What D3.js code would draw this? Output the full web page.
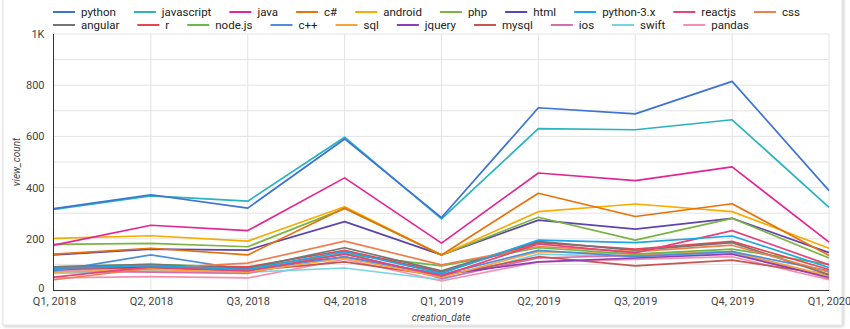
<!DOCTYPE html>
<html><head><meta charset="utf-8">
<script src="https://cdn.jsdelivr.net/npm/d3@7"></script>
<style>body{margin:0;background:#fff;font-family:Roboto,"Noto Sans",sans-serif}</style>
</head><body><svg id="c" width="850" height="329"></svg>
<script>
const categories = ["Q1, 2018","Q2, 2018","Q3, 2018","Q4, 2018","Q1, 2019","Q2, 2019","Q3, 2019","Q4, 2019","Q1, 2020"];
const seriesNames = ["python","javascript","java","c#","android","php","html","python-3.x","reactjs","css","angular","r","node.js","c++","sql","jquery","mysql","ios","swift","pandas"];
const python     = [318,372,320,590,283,712,688,815,388];
const javascript = [315,368,347,597,278,630,626,665,323];
const java       = [175,253,232,438,183,457,427,481,187];
const csharp     = [140,163,137,320,137,378,287,337,135];
const android    = [202,212,191,325,137,306,336,306,163];
const php        = [178,182,169,318,137,284,195,280,125];
const html       = [137,160,156,267,137,273,238,280,146];
const python3x   = [85,95,80,150,65,195,185,211,88];
const reactjs    = [50,90,75,140,55,180,145,232,98];
const css        = [40,85,105,191,98,170,150,175,70];
const angular    = [90,100,85,165,75,190,155,185,60];
const r          = [85,95,90,155,70,185,160,190,80];
const nodejs     = [90,100,88,140,94,165,140,160,100];
const cpp        = [75,137,78,130,60,155,130,150,75];
const sql        = [70,80,70,125,50,150,140,150,55];
const jquery     = [85,90,80,130,60,110,125,140,50];
const mysql      = [80,85,75,110,55,130,94,117,60];
const ios        = [75,70,65,145,45,125,135,150,45];
const swift      = [65,75,70,86,40,140,130,145,50];
const pandas     = [47,52,47,120,35,110,120,130,40];
const yTicks = [0,200,400,600,800,1000];
const yTickLabels = ["0","200","400","600","800","1K"];

const values = [python,javascript,java,csharp,android,php,html,python3x,reactjs,css,angular,r,nodejs,cpp,sql,jquery,mysql,ios,swift,pandas];
const colors = ["#3d72d6","#2ab3c1","#e52592","#e8710a","#f9ab00","#7cb342","#5e45ad","#1ea7e4","#e8437a","#ef7e4e","#757575","#e8464f","#6ab84a","#4f8fd9","#f3a43f","#8e3fb5","#c75550","#d36fb0","#7ad3e3","#f491b2"];

const svg = d3.select("#c");
const defs = svg.append("defs");
const f = defs.append("filter").attr("id","sh").attr("x","-5%").attr("y","-5%").attr("width","110%").attr("height","110%");
f.append("feDropShadow").attr("dx",1).attr("dy",1).attr("stdDeviation",1.5).attr("flood-color","#000").attr("flood-opacity",0.25);
svg.append("rect").attr("x",3).attr("y",-6).attr("width",839).attr("height",331).attr("fill","#fff").attr("stroke","#e2e2e2").attr("filter","url(#sh)");

const x = d3.scalePoint().domain(categories).range([54,829]);
const y = d3.scaleLinear().domain([0,1000]).range([290,34]);

// grid
const g = svg.append("g");
g.selectAll(".hg").data(d3.range(100,1001,100)).join("line")
  .attr("x1",54).attr("x2",829).attr("y1",d=>y(d)).attr("y2",d=>y(d))
  .attr("stroke","#e3e3e3").attr("stroke-width",1);
g.selectAll(".vg").data(categories.slice(1)).join("line")
  .attr("x1",d=>x(d)).attr("x2",d=>x(d)).attr("y1",34).attr("y2",290)
  .attr("stroke","#e3e3e3").attr("stroke-width",1);

// axes
const ya = svg.append("g").attr("transform","translate(53.5,0)")
  .call(d3.axisLeft(y).tickValues(yTicks).tickFormat((d,i)=>yTickLabels[i]).tickSize(0).tickPadding(9));
ya.select(".domain").attr("stroke","#333").attr("d","M0,34V290");
ya.selectAll("text").attr("fill","#444").style("font-size","11px").style("font-family","Roboto");
ya.selectAll(".tick").filter(d=>d===0).select("text").attr("dy","0.1em");
const xa = svg.append("g").attr("transform","translate(0,290.5)")
  .call(d3.axisBottom(x).tickSize(0).tickPadding(7));
xa.select(".domain").attr("stroke","#333").attr("d","M53,0H829");
xa.selectAll("text").attr("fill","#444").style("font-size","11px").style("font-family","Roboto");

svg.append("text").attr("transform","translate(20,162) rotate(-90)").attr("text-anchor","middle")
  .style("font-size","10px").style("font-style","italic").attr("fill","#444").text("view_count");
svg.append("text").attr("x",441).attr("y",321).attr("text-anchor","middle")
  .style("font-size","10px").style("font-style","italic").attr("fill","#444").text("creation_date");

// lines
const line = d3.line().x((d,i)=>x(categories[i])).y(d=>y(d));
const order = d3.range(seriesNames.length).reverse();
svg.append("g").selectAll("path").data(order).join("path")
  .attr("d",i=>line(values[i])).attr("fill","none").attr("stroke",i=>colors[i])
  .attr("stroke-width",1.7).attr("stroke-linejoin","round");

// legend
const lg = svg.append("g");
[[0,10,12],[10,20,25]].forEach(([a,b,cy])=>{
  let cx = 53;
  for(let i=a;i<b;i++){
    lg.append("line").attr("x1",cx).attr("x2",cx+22).attr("y1",cy).attr("y2",cy).attr("stroke",colors[i]).attr("stroke-width",2);
    const t = lg.append("text").attr("x",cx+28).attr("y",cy+4).style("font-size","11.5px").attr("fill","#222").text(seriesNames[i]);
    cx = cx + 28 + t.node().getComputedTextLength() + 18;
  }
});
</script></body></html>
